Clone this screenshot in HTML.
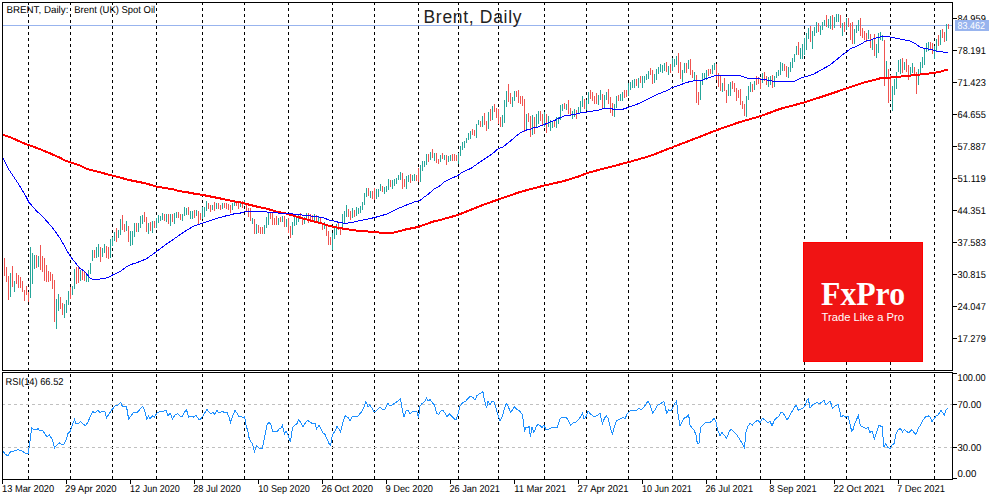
<!DOCTYPE html><html><head><meta charset="utf-8"><title>Brent, Daily</title><style>html,body{margin:0;padding:0;background:#fff;width:1000px;height:500px;overflow:hidden}svg{display:block}text{font-family:"Liberation Sans",sans-serif}.ax{font-size:10px;fill:#000;text-rendering:geometricPrecision}</style></head><body>
<svg width="1000" height="500" viewBox="0 0 1000 500">
<rect width="1000" height="500" fill="#fff"/>
<g stroke="#000" stroke-width="1" stroke-dasharray="3 3" shape-rendering="crispEdges">
<line x1="28.5" y1="2" x2="28.5" y2="479"/>
<line x1="70.5" y1="2" x2="70.5" y2="479"/>
<line x1="112.5" y1="2" x2="112.5" y2="479"/>
<line x1="156.5" y1="2" x2="156.5" y2="479"/>
<line x1="202.5" y1="2" x2="202.5" y2="479"/>
<line x1="244.5" y1="2" x2="244.5" y2="479"/>
<line x1="288.5" y1="2" x2="288.5" y2="479"/>
<line x1="332.5" y1="2" x2="332.5" y2="479"/>
<line x1="374.5" y1="2" x2="374.5" y2="479"/>
<line x1="418.5" y1="2" x2="418.5" y2="479"/>
<line x1="458.5" y1="2" x2="458.5" y2="479"/>
<line x1="498.5" y1="2" x2="498.5" y2="479"/>
<line x1="544.5" y1="2" x2="544.5" y2="479"/>
<line x1="586.5" y1="2" x2="586.5" y2="479"/>
<line x1="628.5" y1="2" x2="628.5" y2="479"/>
<line x1="672.5" y1="2" x2="672.5" y2="479"/>
<line x1="716.5" y1="2" x2="716.5" y2="479"/>
<line x1="760.5" y1="2" x2="760.5" y2="479"/>
<line x1="804.5" y1="2" x2="804.5" y2="479"/>
<line x1="846.5" y1="2" x2="846.5" y2="479"/>
<line x1="890.5" y1="2" x2="890.5" y2="479"/>
<line x1="934.5" y1="2" x2="934.5" y2="479"/>
</g>
<g stroke="#c0c0c0" stroke-width="1" stroke-dasharray="3 3" shape-rendering="crispEdges">
<line x1="2" y1="404.5" x2="952" y2="404.5"/>
<line x1="2" y1="447.5" x2="952" y2="447.5"/>
</g>
<rect x="0" y="371" width="952" height="1" fill="#fff"/>
<rect x="3" y="25" width="949" height="1" fill="#98b4ee"/>
<g shape-rendering="crispEdges">
<rect x="4" y="258" width="1" height="18" fill="#ef5350"/>
<rect x="6" y="267" width="1" height="15" fill="#ef5350"/>
<rect x="8" y="276" width="1" height="24" fill="#ef5350"/>
<rect x="10" y="273" width="1" height="24" fill="#26a69a"/>
<rect x="12" y="266" width="1" height="21" fill="#ef5350"/>
<rect x="14" y="281" width="1" height="11" fill="#26a69a"/>
<rect x="16" y="273" width="1" height="11" fill="#ef5350"/>
<rect x="18" y="275" width="1" height="13" fill="#ef5350"/>
<rect x="20" y="277" width="1" height="11" fill="#ef5350"/>
<rect x="22" y="281" width="1" height="11" fill="#ef5350"/>
<rect x="24" y="290" width="1" height="11" fill="#ef5350"/>
<rect x="26" y="286" width="1" height="9" fill="#ef5350"/>
<rect x="28" y="292" width="1" height="10" fill="#ef5350"/>
<rect x="30" y="247" width="1" height="51" fill="#26a69a"/>
<rect x="32" y="253" width="1" height="31" fill="#26a69a"/>
<rect x="34" y="255" width="1" height="14" fill="#26a69a"/>
<rect x="36" y="255" width="1" height="13" fill="#ef5350"/>
<rect x="38" y="256" width="1" height="11" fill="#26a69a"/>
<rect x="40" y="245" width="1" height="25" fill="#ef5350"/>
<rect x="42" y="256" width="1" height="16" fill="#ef5350"/>
<rect x="44" y="258" width="1" height="23" fill="#ef5350"/>
<rect x="46" y="265" width="1" height="17" fill="#ef5350"/>
<rect x="48" y="271" width="1" height="11" fill="#ef5350"/>
<rect x="50" y="272" width="1" height="9" fill="#ef5350"/>
<rect x="52" y="274" width="1" height="15" fill="#ef5350"/>
<rect x="54" y="280" width="1" height="42" fill="#ef5350"/>
<rect x="56" y="299" width="1" height="30" fill="#26a69a"/>
<rect x="58" y="294" width="1" height="17" fill="#26a69a"/>
<rect x="60" y="297" width="1" height="12" fill="#ef5350"/>
<rect x="62" y="303" width="1" height="12" fill="#ef5350"/>
<rect x="64" y="304" width="1" height="14" fill="#26a69a"/>
<rect x="66" y="300" width="1" height="13" fill="#26a69a"/>
<rect x="68" y="291" width="1" height="14" fill="#26a69a"/>
<rect x="70" y="287" width="1" height="12" fill="#ef5350"/>
<rect x="72" y="286" width="1" height="9" fill="#26a69a"/>
<rect x="74" y="269" width="1" height="20" fill="#26a69a"/>
<rect x="76" y="267" width="1" height="17" fill="#ef5350"/>
<rect x="78" y="267" width="1" height="16" fill="#ef5350"/>
<rect x="80" y="270" width="1" height="11" fill="#26a69a"/>
<rect x="82" y="270" width="1" height="10" fill="#ef5350"/>
<rect x="84" y="271" width="1" height="10" fill="#ef5350"/>
<rect x="86" y="273" width="1" height="9" fill="#26a69a"/>
<rect x="88" y="270" width="1" height="12" fill="#26a69a"/>
<rect x="90" y="263" width="1" height="11" fill="#26a69a"/>
<rect x="92" y="250" width="1" height="11" fill="#26a69a"/>
<rect x="94" y="250" width="1" height="8" fill="#ef5350"/>
<rect x="96" y="247" width="1" height="11" fill="#26a69a"/>
<rect x="98" y="244" width="1" height="13" fill="#26a69a"/>
<rect x="100" y="247" width="1" height="15" fill="#ef5350"/>
<rect x="102" y="248" width="1" height="9" fill="#26a69a"/>
<rect x="104" y="244" width="1" height="9" fill="#26a69a"/>
<rect x="106" y="246" width="1" height="12" fill="#ef5350"/>
<rect x="108" y="247" width="1" height="12" fill="#ef5350"/>
<rect x="110" y="239" width="1" height="19" fill="#26a69a"/>
<rect x="112" y="237" width="1" height="9" fill="#26a69a"/>
<rect x="114" y="232" width="1" height="9" fill="#26a69a"/>
<rect x="116" y="228" width="1" height="14" fill="#ef5350"/>
<rect x="118" y="230" width="1" height="8" fill="#26a69a"/>
<rect x="120" y="219" width="1" height="16" fill="#26a69a"/>
<rect x="122" y="215" width="1" height="15" fill="#ef5350"/>
<rect x="124" y="224" width="1" height="8" fill="#ef5350"/>
<rect x="126" y="221" width="1" height="10" fill="#26a69a"/>
<rect x="128" y="226" width="1" height="16" fill="#ef5350"/>
<rect x="130" y="231" width="1" height="15" fill="#26a69a"/>
<rect x="132" y="231" width="1" height="14" fill="#26a69a"/>
<rect x="134" y="223" width="1" height="14" fill="#26a69a"/>
<rect x="136" y="223" width="1" height="9" fill="#ef5350"/>
<rect x="138" y="223" width="1" height="9" fill="#26a69a"/>
<rect x="140" y="216" width="1" height="12" fill="#26a69a"/>
<rect x="142" y="215" width="1" height="9" fill="#26a69a"/>
<rect x="144" y="212" width="1" height="10" fill="#ef5350"/>
<rect x="146" y="217" width="1" height="15" fill="#ef5350"/>
<rect x="148" y="223" width="1" height="11" fill="#26a69a"/>
<rect x="150" y="222" width="1" height="9" fill="#ef5350"/>
<rect x="152" y="221" width="1" height="12" fill="#26a69a"/>
<rect x="154" y="221" width="1" height="7" fill="#ef5350"/>
<rect x="156" y="218" width="1" height="10" fill="#26a69a"/>
<rect x="158" y="215" width="1" height="8" fill="#26a69a"/>
<rect x="160" y="216" width="1" height="5" fill="#26a69a"/>
<rect x="162" y="213" width="1" height="7" fill="#26a69a"/>
<rect x="164" y="214" width="1" height="7" fill="#ef5350"/>
<rect x="166" y="214" width="1" height="8" fill="#26a69a"/>
<rect x="168" y="214" width="1" height="10" fill="#ef5350"/>
<rect x="170" y="214" width="1" height="12" fill="#26a69a"/>
<rect x="172" y="214" width="1" height="8" fill="#ef5350"/>
<rect x="174" y="213" width="1" height="11" fill="#26a69a"/>
<rect x="176" y="212" width="1" height="6" fill="#26a69a"/>
<rect x="178" y="212" width="1" height="6" fill="#ef5350"/>
<rect x="180" y="214" width="1" height="6" fill="#ef5350"/>
<rect x="182" y="214" width="1" height="7" fill="#26a69a"/>
<rect x="184" y="207" width="1" height="9" fill="#26a69a"/>
<rect x="186" y="208" width="1" height="7" fill="#26a69a"/>
<rect x="188" y="207" width="1" height="8" fill="#ef5350"/>
<rect x="190" y="211" width="1" height="8" fill="#26a69a"/>
<rect x="192" y="211" width="1" height="8" fill="#26a69a"/>
<rect x="194" y="210" width="1" height="8" fill="#ef5350"/>
<rect x="196" y="210" width="1" height="6" fill="#26a69a"/>
<rect x="198" y="211" width="1" height="13" fill="#ef5350"/>
<rect x="200" y="213" width="1" height="7" fill="#ef5350"/>
<rect x="202" y="207" width="1" height="12" fill="#26a69a"/>
<rect x="204" y="207" width="1" height="10" fill="#26a69a"/>
<rect x="206" y="201" width="1" height="10" fill="#26a69a"/>
<rect x="208" y="203" width="1" height="6" fill="#ef5350"/>
<rect x="210" y="205" width="1" height="7" fill="#ef5350"/>
<rect x="212" y="205" width="1" height="5" fill="#26a69a"/>
<rect x="214" y="202" width="1" height="9" fill="#ef5350"/>
<rect x="216" y="203" width="1" height="6" fill="#26a69a"/>
<rect x="218" y="203" width="1" height="6" fill="#ef5350"/>
<rect x="220" y="205" width="1" height="5" fill="#ef5350"/>
<rect x="222" y="203" width="1" height="6" fill="#26a69a"/>
<rect x="224" y="203" width="1" height="5" fill="#ef5350"/>
<rect x="226" y="203" width="1" height="6" fill="#ef5350"/>
<rect x="228" y="204" width="1" height="6" fill="#ef5350"/>
<rect x="230" y="205" width="1" height="8" fill="#ef5350"/>
<rect x="232" y="203" width="1" height="7" fill="#26a69a"/>
<rect x="234" y="201" width="1" height="5" fill="#26a69a"/>
<rect x="236" y="202" width="1" height="4" fill="#ef5350"/>
<rect x="238" y="203" width="1" height="6" fill="#ef5350"/>
<rect x="240" y="202" width="1" height="5" fill="#26a69a"/>
<rect x="242" y="201" width="1" height="7" fill="#ef5350"/>
<rect x="244" y="200" width="1" height="5" fill="#26a69a"/>
<rect x="246" y="204" width="1" height="8" fill="#ef5350"/>
<rect x="248" y="208" width="1" height="9" fill="#ef5350"/>
<rect x="250" y="208" width="1" height="13" fill="#ef5350"/>
<rect x="252" y="218" width="1" height="6" fill="#26a69a"/>
<rect x="254" y="219" width="1" height="15" fill="#ef5350"/>
<rect x="256" y="224" width="1" height="10" fill="#26a69a"/>
<rect x="258" y="225" width="1" height="8" fill="#ef5350"/>
<rect x="260" y="227" width="1" height="7" fill="#ef5350"/>
<rect x="262" y="227" width="1" height="7" fill="#ef5350"/>
<rect x="264" y="225" width="1" height="9" fill="#26a69a"/>
<rect x="266" y="217" width="1" height="11" fill="#26a69a"/>
<rect x="268" y="213" width="1" height="12" fill="#26a69a"/>
<rect x="270" y="212" width="1" height="7" fill="#ef5350"/>
<rect x="272" y="213" width="1" height="12" fill="#ef5350"/>
<rect x="274" y="218" width="1" height="7" fill="#ef5350"/>
<rect x="276" y="216" width="1" height="9" fill="#ef5350"/>
<rect x="278" y="218" width="1" height="7" fill="#26a69a"/>
<rect x="280" y="217" width="1" height="5" fill="#ef5350"/>
<rect x="282" y="216" width="1" height="6" fill="#26a69a"/>
<rect x="284" y="216" width="1" height="11" fill="#ef5350"/>
<rect x="286" y="219" width="1" height="8" fill="#26a69a"/>
<rect x="288" y="218" width="1" height="15" fill="#ef5350"/>
<rect x="290" y="226" width="1" height="12" fill="#ef5350"/>
<rect x="292" y="222" width="1" height="13" fill="#26a69a"/>
<rect x="294" y="217" width="1" height="9" fill="#26a69a"/>
<rect x="296" y="216" width="1" height="9" fill="#26a69a"/>
<rect x="298" y="214" width="1" height="8" fill="#26a69a"/>
<rect x="300" y="213" width="1" height="4" fill="#ef5350"/>
<rect x="302" y="217" width="1" height="8" fill="#ef5350"/>
<rect x="304" y="217" width="1" height="7" fill="#26a69a"/>
<rect x="306" y="213" width="1" height="7" fill="#26a69a"/>
<rect x="308" y="213" width="1" height="10" fill="#ef5350"/>
<rect x="310" y="214" width="1" height="6" fill="#ef5350"/>
<rect x="312" y="215" width="1" height="5" fill="#ef5350"/>
<rect x="314" y="214" width="1" height="7" fill="#26a69a"/>
<rect x="316" y="215" width="1" height="7" fill="#ef5350"/>
<rect x="318" y="217" width="1" height="5" fill="#26a69a"/>
<rect x="320" y="217" width="1" height="6" fill="#ef5350"/>
<rect x="322" y="223" width="1" height="7" fill="#ef5350"/>
<rect x="324" y="222" width="1" height="7" fill="#26a69a"/>
<rect x="326" y="225" width="1" height="11" fill="#ef5350"/>
<rect x="328" y="231" width="1" height="14" fill="#ef5350"/>
<rect x="330" y="237" width="1" height="8" fill="#ef5350"/>
<rect x="332" y="233" width="1" height="17" fill="#26a69a"/>
<rect x="334" y="228" width="1" height="11" fill="#26a69a"/>
<rect x="336" y="224" width="1" height="11" fill="#26a69a"/>
<rect x="338" y="223" width="1" height="7" fill="#ef5350"/>
<rect x="340" y="228" width="1" height="7" fill="#ef5350"/>
<rect x="342" y="214" width="1" height="16" fill="#26a69a"/>
<rect x="344" y="211" width="1" height="12" fill="#26a69a"/>
<rect x="346" y="205" width="1" height="12" fill="#26a69a"/>
<rect x="348" y="209" width="1" height="8" fill="#ef5350"/>
<rect x="350" y="211" width="1" height="9" fill="#ef5350"/>
<rect x="352" y="208" width="1" height="10" fill="#26a69a"/>
<rect x="354" y="210" width="1" height="7" fill="#ef5350"/>
<rect x="356" y="207" width="1" height="9" fill="#26a69a"/>
<rect x="358" y="208" width="1" height="6" fill="#26a69a"/>
<rect x="360" y="206" width="1" height="7" fill="#26a69a"/>
<rect x="362" y="202" width="1" height="8" fill="#26a69a"/>
<rect x="364" y="193" width="1" height="12" fill="#26a69a"/>
<rect x="366" y="188" width="1" height="9" fill="#26a69a"/>
<rect x="368" y="188" width="1" height="8" fill="#ef5350"/>
<rect x="370" y="191" width="1" height="7" fill="#26a69a"/>
<rect x="372" y="191" width="1" height="8" fill="#ef5350"/>
<rect x="374" y="188" width="1" height="12" fill="#ef5350"/>
<rect x="376" y="189" width="1" height="10" fill="#26a69a"/>
<rect x="378" y="189" width="1" height="8" fill="#26a69a"/>
<rect x="380" y="184" width="1" height="7" fill="#26a69a"/>
<rect x="382" y="186" width="1" height="6" fill="#ef5350"/>
<rect x="384" y="187" width="1" height="7" fill="#26a69a"/>
<rect x="386" y="186" width="1" height="6" fill="#26a69a"/>
<rect x="388" y="179" width="1" height="11" fill="#26a69a"/>
<rect x="390" y="180" width="1" height="7" fill="#ef5350"/>
<rect x="392" y="180" width="1" height="9" fill="#26a69a"/>
<rect x="394" y="179" width="1" height="7" fill="#26a69a"/>
<rect x="396" y="178" width="1" height="6" fill="#26a69a"/>
<rect x="398" y="175" width="1" height="5" fill="#26a69a"/>
<rect x="400" y="172" width="1" height="8" fill="#26a69a"/>
<rect x="402" y="173" width="1" height="16" fill="#ef5350"/>
<rect x="404" y="179" width="1" height="8" fill="#ef5350"/>
<rect x="406" y="176" width="1" height="13" fill="#26a69a"/>
<rect x="408" y="175" width="1" height="7" fill="#26a69a"/>
<rect x="410" y="174" width="1" height="9" fill="#ef5350"/>
<rect x="412" y="175" width="1" height="6" fill="#26a69a"/>
<rect x="414" y="174" width="1" height="7" fill="#26a69a"/>
<rect x="416" y="175" width="1" height="6" fill="#ef5350"/>
<rect x="418" y="168" width="1" height="14" fill="#ef5350"/>
<rect x="420" y="165" width="1" height="17" fill="#26a69a"/>
<rect x="422" y="161" width="1" height="10" fill="#26a69a"/>
<rect x="424" y="161" width="1" height="6" fill="#26a69a"/>
<rect x="426" y="154" width="1" height="11" fill="#26a69a"/>
<rect x="428" y="154" width="1" height="8" fill="#ef5350"/>
<rect x="430" y="152" width="1" height="8" fill="#26a69a"/>
<rect x="432" y="149" width="1" height="9" fill="#ef5350"/>
<rect x="434" y="153" width="1" height="8" fill="#26a69a"/>
<rect x="436" y="153" width="1" height="10" fill="#ef5350"/>
<rect x="438" y="159" width="1" height="5" fill="#ef5350"/>
<rect x="440" y="155" width="1" height="7" fill="#26a69a"/>
<rect x="442" y="153" width="1" height="6" fill="#ef5350"/>
<rect x="444" y="155" width="1" height="5" fill="#26a69a"/>
<rect x="446" y="155" width="1" height="10" fill="#ef5350"/>
<rect x="448" y="156" width="1" height="6" fill="#26a69a"/>
<rect x="450" y="155" width="1" height="6" fill="#26a69a"/>
<rect x="452" y="154" width="1" height="7" fill="#ef5350"/>
<rect x="454" y="154" width="1" height="7" fill="#ef5350"/>
<rect x="456" y="155" width="1" height="6" fill="#ef5350"/>
<rect x="458" y="153" width="1" height="11" fill="#26a69a"/>
<rect x="460" y="146" width="1" height="10" fill="#26a69a"/>
<rect x="462" y="142" width="1" height="8" fill="#26a69a"/>
<rect x="464" y="141" width="1" height="7" fill="#26a69a"/>
<rect x="466" y="138" width="1" height="5" fill="#26a69a"/>
<rect x="468" y="133" width="1" height="7" fill="#26a69a"/>
<rect x="470" y="131" width="1" height="8" fill="#26a69a"/>
<rect x="472" y="129" width="1" height="6" fill="#ef5350"/>
<rect x="474" y="130" width="1" height="6" fill="#ef5350"/>
<rect x="476" y="124" width="1" height="14" fill="#26a69a"/>
<rect x="478" y="120" width="1" height="5" fill="#26a69a"/>
<rect x="480" y="121" width="1" height="6" fill="#ef5350"/>
<rect x="482" y="116" width="1" height="11" fill="#26a69a"/>
<rect x="484" y="113" width="1" height="12" fill="#ef5350"/>
<rect x="486" y="121" width="1" height="10" fill="#ef5350"/>
<rect x="488" y="112" width="1" height="17" fill="#26a69a"/>
<rect x="490" y="109" width="1" height="12" fill="#ef5350"/>
<rect x="492" y="106" width="1" height="14" fill="#26a69a"/>
<rect x="494" y="104" width="1" height="8" fill="#ef5350"/>
<rect x="496" y="108" width="1" height="10" fill="#ef5350"/>
<rect x="498" y="109" width="1" height="15" fill="#ef5350"/>
<rect x="500" y="117" width="1" height="10" fill="#ef5350"/>
<rect x="502" y="115" width="1" height="12" fill="#26a69a"/>
<rect x="504" y="100" width="1" height="23" fill="#26a69a"/>
<rect x="506" y="91" width="1" height="16" fill="#26a69a"/>
<rect x="508" y="84" width="1" height="18" fill="#ef5350"/>
<rect x="510" y="93" width="1" height="11" fill="#ef5350"/>
<rect x="512" y="97" width="1" height="10" fill="#26a69a"/>
<rect x="514" y="91" width="1" height="10" fill="#26a69a"/>
<rect x="516" y="91" width="1" height="6" fill="#ef5350"/>
<rect x="518" y="90" width="1" height="13" fill="#ef5350"/>
<rect x="520" y="96" width="1" height="8" fill="#ef5350"/>
<rect x="522" y="96" width="1" height="10" fill="#ef5350"/>
<rect x="524" y="99" width="1" height="33" fill="#ef5350"/>
<rect x="526" y="114" width="1" height="15" fill="#26a69a"/>
<rect x="528" y="113" width="1" height="9" fill="#ef5350"/>
<rect x="530" y="116" width="1" height="21" fill="#ef5350"/>
<rect x="532" y="115" width="1" height="20" fill="#26a69a"/>
<rect x="534" y="117" width="1" height="17" fill="#ef5350"/>
<rect x="536" y="114" width="1" height="14" fill="#26a69a"/>
<rect x="538" y="111" width="1" height="13" fill="#26a69a"/>
<rect x="540" y="111" width="1" height="10" fill="#ef5350"/>
<rect x="542" y="114" width="1" height="12" fill="#ef5350"/>
<rect x="544" y="112" width="1" height="15" fill="#26a69a"/>
<rect x="546" y="114" width="1" height="19" fill="#ef5350"/>
<rect x="548" y="116" width="1" height="11" fill="#26a69a"/>
<rect x="550" y="120" width="1" height="11" fill="#26a69a"/>
<rect x="552" y="121" width="1" height="7" fill="#26a69a"/>
<rect x="554" y="121" width="1" height="6" fill="#ef5350"/>
<rect x="556" y="117" width="1" height="11" fill="#26a69a"/>
<rect x="558" y="117" width="1" height="7" fill="#26a69a"/>
<rect x="560" y="105" width="1" height="15" fill="#26a69a"/>
<rect x="562" y="104" width="1" height="7" fill="#26a69a"/>
<rect x="564" y="103" width="1" height="6" fill="#ef5350"/>
<rect x="566" y="104" width="1" height="6" fill="#26a69a"/>
<rect x="568" y="100" width="1" height="14" fill="#ef5350"/>
<rect x="570" y="108" width="1" height="8" fill="#ef5350"/>
<rect x="572" y="111" width="1" height="8" fill="#26a69a"/>
<rect x="574" y="109" width="1" height="8" fill="#26a69a"/>
<rect x="576" y="110" width="1" height="9" fill="#ef5350"/>
<rect x="578" y="107" width="1" height="7" fill="#26a69a"/>
<rect x="580" y="101" width="1" height="11" fill="#26a69a"/>
<rect x="582" y="96" width="1" height="11" fill="#26a69a"/>
<rect x="584" y="99" width="1" height="10" fill="#ef5350"/>
<rect x="586" y="100" width="1" height="10" fill="#26a69a"/>
<rect x="588" y="92" width="1" height="12" fill="#26a69a"/>
<rect x="590" y="90" width="1" height="9" fill="#ef5350"/>
<rect x="592" y="92" width="1" height="9" fill="#ef5350"/>
<rect x="594" y="96" width="1" height="8" fill="#ef5350"/>
<rect x="596" y="93" width="1" height="11" fill="#ef5350"/>
<rect x="598" y="95" width="1" height="10" fill="#26a69a"/>
<rect x="600" y="90" width="1" height="10" fill="#26a69a"/>
<rect x="602" y="94" width="1" height="14" fill="#ef5350"/>
<rect x="604" y="95" width="1" height="13" fill="#26a69a"/>
<rect x="606" y="92" width="1" height="8" fill="#26a69a"/>
<rect x="608" y="89" width="1" height="15" fill="#ef5350"/>
<rect x="610" y="97" width="1" height="16" fill="#ef5350"/>
<rect x="612" y="103" width="1" height="13" fill="#ef5350"/>
<rect x="614" y="104" width="1" height="13" fill="#26a69a"/>
<rect x="616" y="96" width="1" height="12" fill="#26a69a"/>
<rect x="618" y="95" width="1" height="6" fill="#ef5350"/>
<rect x="620" y="94" width="1" height="7" fill="#26a69a"/>
<rect x="622" y="92" width="1" height="9" fill="#26a69a"/>
<rect x="624" y="90" width="1" height="8" fill="#ef5350"/>
<rect x="626" y="90" width="1" height="7" fill="#ef5350"/>
<rect x="628" y="83" width="1" height="13" fill="#26a69a"/>
<rect x="630" y="82" width="1" height="8" fill="#26a69a"/>
<rect x="632" y="80" width="1" height="8" fill="#26a69a"/>
<rect x="634" y="79" width="1" height="9" fill="#26a69a"/>
<rect x="636" y="79" width="1" height="7" fill="#ef5350"/>
<rect x="638" y="78" width="1" height="10" fill="#26a69a"/>
<rect x="640" y="76" width="1" height="7" fill="#ef5350"/>
<rect x="642" y="76" width="1" height="12" fill="#26a69a"/>
<rect x="644" y="76" width="1" height="7" fill="#26a69a"/>
<rect x="646" y="74" width="1" height="6" fill="#26a69a"/>
<rect x="648" y="71" width="1" height="8" fill="#26a69a"/>
<rect x="650" y="68" width="1" height="7" fill="#ef5350"/>
<rect x="652" y="70" width="1" height="14" fill="#ef5350"/>
<rect x="654" y="74" width="1" height="9" fill="#26a69a"/>
<rect x="656" y="69" width="1" height="11" fill="#26a69a"/>
<rect x="658" y="67" width="1" height="7" fill="#26a69a"/>
<rect x="660" y="64" width="1" height="8" fill="#26a69a"/>
<rect x="662" y="65" width="1" height="8" fill="#26a69a"/>
<rect x="664" y="63" width="1" height="8" fill="#26a69a"/>
<rect x="666" y="62" width="1" height="10" fill="#ef5350"/>
<rect x="668" y="66" width="1" height="9" fill="#26a69a"/>
<rect x="670" y="64" width="1" height="9" fill="#ef5350"/>
<rect x="672" y="58" width="1" height="13" fill="#26a69a"/>
<rect x="674" y="59" width="1" height="8" fill="#26a69a"/>
<rect x="676" y="56" width="1" height="9" fill="#26a69a"/>
<rect x="678" y="53" width="1" height="20" fill="#ef5350"/>
<rect x="680" y="62" width="1" height="17" fill="#ef5350"/>
<rect x="682" y="70" width="1" height="12" fill="#26a69a"/>
<rect x="684" y="63" width="1" height="10" fill="#26a69a"/>
<rect x="686" y="63" width="1" height="10" fill="#ef5350"/>
<rect x="688" y="60" width="1" height="9" fill="#26a69a"/>
<rect x="690" y="59" width="1" height="16" fill="#ef5350"/>
<rect x="692" y="70" width="1" height="8" fill="#ef5350"/>
<rect x="694" y="72" width="1" height="9" fill="#26a69a"/>
<rect x="696" y="75" width="1" height="28" fill="#ef5350"/>
<rect x="698" y="92" width="1" height="13" fill="#ef5350"/>
<rect x="700" y="81" width="1" height="19" fill="#26a69a"/>
<rect x="702" y="73" width="1" height="12" fill="#26a69a"/>
<rect x="704" y="73" width="1" height="6" fill="#26a69a"/>
<rect x="706" y="70" width="1" height="10" fill="#26a69a"/>
<rect x="708" y="69" width="1" height="7" fill="#ef5350"/>
<rect x="710" y="69" width="1" height="5" fill="#ef5350"/>
<rect x="712" y="65" width="1" height="9" fill="#26a69a"/>
<rect x="714" y="63" width="1" height="7" fill="#26a69a"/>
<rect x="716" y="64" width="1" height="16" fill="#ef5350"/>
<rect x="718" y="73" width="1" height="14" fill="#ef5350"/>
<rect x="720" y="76" width="1" height="15" fill="#ef5350"/>
<rect x="722" y="83" width="1" height="9" fill="#26a69a"/>
<rect x="724" y="78" width="1" height="13" fill="#ef5350"/>
<rect x="726" y="90" width="1" height="13" fill="#ef5350"/>
<rect x="728" y="84" width="1" height="12" fill="#26a69a"/>
<rect x="730" y="82" width="1" height="14" fill="#26a69a"/>
<rect x="732" y="81" width="1" height="8" fill="#ef5350"/>
<rect x="734" y="83" width="1" height="9" fill="#ef5350"/>
<rect x="736" y="88" width="1" height="13" fill="#ef5350"/>
<rect x="738" y="90" width="1" height="8" fill="#ef5350"/>
<rect x="740" y="89" width="1" height="16" fill="#ef5350"/>
<rect x="742" y="101" width="1" height="8" fill="#ef5350"/>
<rect x="744" y="104" width="1" height="12" fill="#ef5350"/>
<rect x="746" y="96" width="1" height="21" fill="#26a69a"/>
<rect x="748" y="86" width="1" height="14" fill="#26a69a"/>
<rect x="750" y="82" width="1" height="10" fill="#26a69a"/>
<rect x="752" y="84" width="1" height="8" fill="#ef5350"/>
<rect x="754" y="81" width="1" height="9" fill="#26a69a"/>
<rect x="756" y="76" width="1" height="9" fill="#ef5350"/>
<rect x="758" y="77" width="1" height="7" fill="#ef5350"/>
<rect x="760" y="78" width="1" height="11" fill="#ef5350"/>
<rect x="762" y="73" width="1" height="10" fill="#26a69a"/>
<rect x="764" y="72" width="1" height="9" fill="#ef5350"/>
<rect x="766" y="76" width="1" height="9" fill="#ef5350"/>
<rect x="768" y="77" width="1" height="10" fill="#26a69a"/>
<rect x="770" y="76" width="1" height="9" fill="#26a69a"/>
<rect x="772" y="75" width="1" height="13" fill="#ef5350"/>
<rect x="774" y="76" width="1" height="11" fill="#26a69a"/>
<rect x="776" y="72" width="1" height="6" fill="#26a69a"/>
<rect x="778" y="70" width="1" height="6" fill="#26a69a"/>
<rect x="780" y="62" width="1" height="13" fill="#26a69a"/>
<rect x="782" y="63" width="1" height="8" fill="#26a69a"/>
<rect x="784" y="64" width="1" height="7" fill="#ef5350"/>
<rect x="786" y="66" width="1" height="11" fill="#ef5350"/>
<rect x="788" y="67" width="1" height="11" fill="#26a69a"/>
<rect x="790" y="62" width="1" height="10" fill="#26a69a"/>
<rect x="792" y="58" width="1" height="10" fill="#26a69a"/>
<rect x="794" y="54" width="1" height="8" fill="#26a69a"/>
<rect x="796" y="46" width="1" height="9" fill="#26a69a"/>
<rect x="798" y="42" width="1" height="13" fill="#ef5350"/>
<rect x="800" y="48" width="1" height="11" fill="#26a69a"/>
<rect x="802" y="44" width="1" height="15" fill="#26a69a"/>
<rect x="804" y="38" width="1" height="17" fill="#26a69a"/>
<rect x="806" y="33" width="1" height="17" fill="#26a69a"/>
<rect x="808" y="28" width="1" height="11" fill="#26a69a"/>
<rect x="810" y="26" width="1" height="16" fill="#ef5350"/>
<rect x="812" y="31" width="1" height="18" fill="#26a69a"/>
<rect x="814" y="27" width="1" height="9" fill="#26a69a"/>
<rect x="816" y="22" width="1" height="11" fill="#26a69a"/>
<rect x="818" y="23" width="1" height="9" fill="#ef5350"/>
<rect x="820" y="26" width="1" height="9" fill="#26a69a"/>
<rect x="822" y="22" width="1" height="8" fill="#26a69a"/>
<rect x="824" y="20" width="1" height="6" fill="#26a69a"/>
<rect x="826" y="15" width="1" height="12" fill="#ef5350"/>
<rect x="828" y="19" width="1" height="9" fill="#26a69a"/>
<rect x="830" y="16" width="1" height="13" fill="#26a69a"/>
<rect x="832" y="15" width="1" height="15" fill="#ef5350"/>
<rect x="834" y="17" width="1" height="11" fill="#26a69a"/>
<rect x="836" y="14" width="1" height="8" fill="#26a69a"/>
<rect x="838" y="14" width="1" height="8" fill="#26a69a"/>
<rect x="840" y="15" width="1" height="13" fill="#ef5350"/>
<rect x="842" y="23" width="1" height="13" fill="#26a69a"/>
<rect x="844" y="22" width="1" height="10" fill="#ef5350"/>
<rect x="846" y="18" width="1" height="12" fill="#26a69a"/>
<rect x="848" y="18" width="1" height="9" fill="#ef5350"/>
<rect x="850" y="23" width="1" height="17" fill="#ef5350"/>
<rect x="852" y="22" width="1" height="22" fill="#ef5350"/>
<rect x="854" y="29" width="1" height="15" fill="#26a69a"/>
<rect x="856" y="25" width="1" height="8" fill="#26a69a"/>
<rect x="858" y="20" width="1" height="11" fill="#26a69a"/>
<rect x="860" y="18" width="1" height="18" fill="#ef5350"/>
<rect x="862" y="28" width="1" height="10" fill="#ef5350"/>
<rect x="864" y="31" width="1" height="9" fill="#ef5350"/>
<rect x="866" y="33" width="1" height="9" fill="#ef5350"/>
<rect x="868" y="30" width="1" height="9" fill="#26a69a"/>
<rect x="870" y="34" width="1" height="14" fill="#ef5350"/>
<rect x="872" y="39" width="1" height="11" fill="#26a69a"/>
<rect x="874" y="34" width="1" height="22" fill="#ef5350"/>
<rect x="876" y="44" width="1" height="14" fill="#26a69a"/>
<rect x="878" y="33" width="1" height="20" fill="#26a69a"/>
<rect x="880" y="32" width="1" height="8" fill="#26a69a"/>
<rect x="882" y="35" width="1" height="6" fill="#26a69a"/>
<rect x="884" y="40" width="1" height="46" fill="#ef5350"/>
<rect x="886" y="61" width="1" height="18" fill="#26a69a"/>
<rect x="888" y="69" width="1" height="34" fill="#ef5350"/>
<rect x="890" y="75" width="1" height="25" fill="#ef5350"/>
<rect x="892" y="86" width="1" height="25" fill="#26a69a"/>
<rect x="894" y="79" width="1" height="16" fill="#26a69a"/>
<rect x="896" y="72" width="1" height="17" fill="#26a69a"/>
<rect x="898" y="60" width="1" height="12" fill="#26a69a"/>
<rect x="900" y="59" width="1" height="15" fill="#26a69a"/>
<rect x="902" y="58" width="1" height="15" fill="#ef5350"/>
<rect x="904" y="62" width="1" height="8" fill="#26a69a"/>
<rect x="906" y="59" width="1" height="13" fill="#ef5350"/>
<rect x="908" y="65" width="1" height="15" fill="#ef5350"/>
<rect x="910" y="67" width="1" height="10" fill="#26a69a"/>
<rect x="912" y="63" width="1" height="10" fill="#26a69a"/>
<rect x="914" y="67" width="1" height="9" fill="#ef5350"/>
<rect x="916" y="72" width="1" height="22" fill="#ef5350"/>
<rect x="918" y="69" width="1" height="16" fill="#26a69a"/>
<rect x="920" y="62" width="1" height="12" fill="#26a69a"/>
<rect x="922" y="57" width="1" height="11" fill="#26a69a"/>
<rect x="924" y="48" width="1" height="17" fill="#26a69a"/>
<rect x="926" y="43" width="1" height="9" fill="#26a69a"/>
<rect x="928" y="42" width="1" height="9" fill="#26a69a"/>
<rect x="930" y="42" width="1" height="8" fill="#ef5350"/>
<rect x="932" y="43" width="1" height="11" fill="#ef5350"/>
<rect x="934" y="46" width="1" height="13" fill="#26a69a"/>
<rect x="936" y="39" width="1" height="12" fill="#26a69a"/>
<rect x="938" y="35" width="1" height="11" fill="#ef5350"/>
<rect x="940" y="30" width="1" height="15" fill="#26a69a"/>
<rect x="942" y="29" width="1" height="9" fill="#ef5350"/>
<rect x="944" y="32" width="1" height="10" fill="#ef5350"/>
<rect x="946" y="24" width="1" height="17" fill="#26a69a"/>
<rect x="948" y="24" width="1" height="5" fill="#ef5350"/>
</g>
<polyline points="3.0,135.0 10.0,137.0 16.0,139.8 22.0,142.5 29.0,145.2 37.0,148.0 44.0,150.8 52.0,154.2 60.0,157.8 65.6,160.8 70.4,162.4 80.0,165.6 86.4,168.8 100.0,172.3 112.7,175.7 130.0,180.2 145.0,183.2 156.7,186.7 175.0,189.7 178.0,191.0 186.0,192.0 194.0,193.6 202.0,194.8 210.0,196.4 218.0,198.0 224.0,199.2 232.0,201.0 240.0,202.2 248.0,204.4 256.0,206.4 266.0,208.5 276.0,211.5 286.0,213.5 303.0,218.5 316.0,222.0 322.0,223.5 326.0,225.0 332.0,226.5 339.0,228.0 346.0,229.0 356.0,230.5 374.0,232.0 380.0,232.6 394.0,232.6 406.0,229.4 418.0,227.0 434.0,221.3 440.0,220.0 458.0,215.0 480.0,206.0 498.0,199.6 520.0,192.0 544.0,185.6 564.0,181.0 580.0,176.0 587.0,173.0 610.0,167.0 629.0,162.0 650.0,156.0 673.0,147.0 694.0,139.0 717.0,130.0 740.0,122.0 761.0,116.0 780.0,108.9 804.0,102.5 816.0,98.6 825.0,95.7 836.0,92.0 846.0,88.5 864.0,82.5 880.0,78.4 890.0,77.6 904.0,76.2 916.0,75.0 934.0,73.0 940.0,71.7 948.0,69.5" fill="none" stroke="#ff0000" stroke-width="2" stroke-linejoin="round" shape-rendering="crispEdges"/>
<polyline points="3.0,158.1 9.0,169.8 18.0,183.3 25.2,195.0 28.8,202.2 36.0,210.3 45.0,219.2 52.2,227.3 60.0,238.1 70.0,256.0 80.0,268.4 84.8,271.6 88.0,275.6 90.0,278.0 92.4,279.4 96.8,279.4 104.0,278.4 108.4,277.6 112.0,275.2 116.0,273.4 121.6,270.6 125.6,267.4 131.2,264.4 137.6,262.4 146.0,259.0 156.0,252.0 168.0,243.0 184.0,232.0 194.0,226.0 202.0,223.2 208.4,221.2 214.0,219.2 218.0,218.0 220.0,217.6 224.0,216.4 228.0,215.4 232.0,214.4 236.0,213.4 240.0,213.2 242.4,212.4 247.2,211.4 256.0,211.4 258.0,211.5 270.0,212.2 276.0,212.5 279.0,213.3 286.0,213.3 304.0,215.2 316.0,216.5 324.0,218.0 329.0,220.0 336.0,221.5 339.0,222.5 346.0,223.3 352.0,222.4 361.6,220.3 374.4,217.6 380.0,216.0 386.3,214.2 396.2,209.3 405.2,205.5 416.0,201.4 420.0,200.5 424.1,197.1 428.6,194.0 434.0,189.0 440.0,185.8 443.6,182.2 449.6,179.2 458.0,175.4 461.6,172.6 471.2,168.2 476.0,164.8 482.0,160.6 488.0,156.6 492.8,153.4 495.0,151.4 498.2,148.6 502.2,147.4 506.2,144.4 510.2,141.2 515.8,136.4 519.8,133.2 523.0,131.4 527.0,129.8 530.2,129.2 534.2,127.4 536.4,127.5 543.6,124.8 549.6,122.2 555.6,120.0 558.0,118.5 561.0,117.5 565.0,115.5 571.0,115.0 576.0,114.0 581.0,112.8 587.0,112.0 592.0,111.5 594.0,110.5 599.0,110.0 604.0,108.5 611.0,108.5 614.0,109.5 622.0,109.5 626.0,108.2 628.5,107.2 634.0,105.5 640.0,103.0 647.0,99.5 655.0,95.5 662.0,92.4 666.0,91.2 672.5,87.3 679.0,85.6 685.5,82.7 692.0,81.2 696.0,80.1 702.4,80.1 708.5,77.8 715.0,75.8 721.5,75.2 739.7,75.2 742.0,76.5 748.4,78.4 757.5,78.7 765.3,79.7 771.8,81.0 794.3,81.6 799.2,78.8 804.8,76.7 810.4,75.3 814.0,73.9 830.0,65.0 846.0,52.0 851.0,48.5 856.0,46.5 861.0,44.0 866.0,41.0 871.0,40.0 874.0,38.5 878.0,37.5 882.0,36.5 886.0,36.5 890.0,37.0 900.0,39.0 910.0,41.0 916.0,44.0 920.0,47.2 924.0,48.4 932.0,49.6 934.0,50.6 938.0,51.6 948.0,52.4" fill="none" stroke="#0000ff" stroke-width="1" shape-rendering="crispEdges"/>
<polyline points="3.0,451.0 5.0,454.0 8.0,456.0 11.0,451.0 14.0,451.0 18.0,449.6 22.0,451.0 26.0,453.6 28.0,454.0 29.6,444.0 31.6,428.0 34.0,429.6 36.0,430.0 38.0,428.6 40.0,431.0 42.0,430.0 44.0,432.4 47.0,437.0 49.6,435.0 52.4,440.0 54.4,448.0 57.0,445.0 59.6,443.0 62.0,445.0 64.0,444.0 66.0,440.0 68.0,433.6 70.4,431.0 72.4,425.0 74.4,419.6 76.0,424.0 78.4,423.6 80.4,421.6 83.0,424.0 85.6,425.6 88.0,422.0 90.4,416.0 93.0,411.6 95.0,413.0 98.0,410.4 100.0,412.4 103.0,411.0 105.0,412.0 106.4,418.0 109.0,414.0 112.0,409.6 115.0,406.0 118.0,405.0 120.6,402.4 122.4,406.4 125.0,406.0 126.6,407.0 128.6,419.0 131.0,416.0 134.0,412.0 136.6,413.0 139.4,410.0 142.6,406.4 144.6,410.0 146.6,419.0 148.6,416.0 150.0,419.0 152.6,415.6 154.6,417.0 157.0,413.0 160.0,411.6 163.0,411.6 166.0,410.0 168.0,416.0 170.0,413.0 172.6,419.0 175.0,415.0 177.4,413.6 180.0,416.0 182.6,416.0 184.6,412.0 186.6,410.0 188.6,417.0 191.0,416.0 193.4,417.0 196.0,415.6 198.6,419.0 200.6,419.0 203.0,416.0 205.0,412.4 207.0,409.6 209.0,412.0 211.0,414.0 213.0,412.4 215.0,414.4 217.0,410.4 219.0,413.0 221.0,412.0 223.0,411.6 225.0,413.0 227.0,412.4 229.0,417.0 230.6,422.4 232.6,416.0 235.0,410.4 237.0,413.0 238.6,416.4 240.6,416.0 243.0,417.6 244.6,416.4 246.0,425.0 248.0,432.0 249.4,439.6 250.0,440.0 252.4,444.0 254.4,451.6 256.4,446.0 259.0,448.0 262.4,448.4 264.4,438.0 267.0,425.0 269.0,422.0 271.0,425.0 272.4,431.0 275.0,431.6 277.0,432.0 279.0,429.0 281.0,428.0 282.4,425.6 284.4,434.0 286.0,431.0 288.0,435.0 290.4,442.0 292.4,428.0 295.0,425.0 297.0,423.6 298.6,419.6 301.0,423.0 303.0,427.0 305.0,423.6 307.4,420.4 310.0,422.0 313.0,424.0 315.0,423.0 316.4,429.0 319.0,425.6 321.0,429.0 323.0,433.0 325.0,434.4 327.0,439.0 329.0,443.6 330.6,445.0 332.4,435.0 335.0,431.0 337.0,426.4 339.0,429.0 340.6,432.4 342.4,424.0 345.0,415.6 348.0,417.6 350.0,421.0 352.4,416.4 355.0,417.0 358.0,416.0 361.0,412.4 363.6,408.0 366.0,401.6 368.0,407.0 369.6,405.0 372.0,408.0 374.0,411.6 375.0,412.0 377.4,409.6 380.0,407.0 382.6,409.6 385.0,409.0 388.0,403.6 390.0,406.0 393.0,404.4 396.0,402.4 398.6,400.4 400.4,398.4 402.0,408.0 404.0,417.0 406.0,411.0 408.0,410.4 410.0,414.0 412.6,411.6 415.0,411.0 417.0,412.0 418.6,417.6 420.0,406.0 422.0,403.6 424.6,401.6 426.6,397.6 428.0,401.0 430.0,399.6 432.6,403.0 434.6,405.0 436.6,413.0 438.6,414.4 440.6,411.0 443.0,410.4 445.0,413.0 447.0,416.4 449.4,414.0 452.0,416.4 454.6,419.0 456.6,419.0 458.0,413.6 460.0,406.0 463.0,402.4 466.0,401.0 468.6,397.6 471.0,396.0 473.0,397.6 475.0,400.0 477.0,395.6 479.4,393.6 481.4,393.0 483.0,391.6 484.6,401.0 486.6,408.0 488.0,401.0 490.0,405.0 492.0,401.0 494.0,401.6 496.0,408.0 498.0,415.0 500.0,421.0 502.4,416.0 504.4,408.4 506.4,403.6 508.4,407.0 510.4,412.0 512.4,410.0 514.4,407.0 517.0,409.6 519.6,411.0 522.0,414.0 523.6,422.0 524.4,432.4 526.0,427.0 528.0,428.0 529.0,426.0 530.4,437.0 532.0,427.0 534.0,432.4 536.0,427.0 538.0,424.0 540.0,425.6 542.0,427.6 544.0,425.0 546.0,430.0 549.0,429.0 552.4,427.6 555.0,428.0 557.0,427.6 560.0,419.0 562.0,417.0 566.0,417.0 568.0,420.0 570.4,425.0 573.0,423.0 575.6,422.4 578.4,419.6 580.4,417.0 582.4,413.0 584.0,419.0 586.4,416.0 588.0,411.0 590.4,414.0 593.0,416.0 595.6,416.4 598.0,415.0 600.0,413.0 602.4,424.0 604.4,418.4 606.4,415.6 608.4,419.0 610.4,428.0 612.4,434.0 614.4,427.0 616.4,421.0 618.4,420.0 620.4,419.0 623.0,417.0 625.0,419.0 627.0,414.0 630.0,411.0 633.0,410.0 636.0,411.0 638.6,408.4 641.4,409.6 644.0,407.0 646.0,404.0 648.0,401.0 650.0,405.0 652.6,413.0 655.0,410.0 657.4,405.6 660.6,403.6 664.0,401.6 666.6,413.0 668.6,410.0 671.0,411.0 673.0,407.0 675.0,403.0 676.6,401.0 678.0,414.0 680.0,426.0 682.0,422.0 684.6,417.6 686.6,417.0 688.6,414.4 690.0,425.0 692.0,428.0 694.0,430.0 696.0,435.0 697.4,444.0 699.0,443.6 700.6,427.6 703.0,425.0 706.0,422.4 709.0,423.0 712.0,421.0 714.0,418.0 716.0,422.0 717.4,429.0 720.0,436.0 722.0,432.4 724.0,435.0 726.6,438.4 729.0,432.0 731.0,429.0 734.0,432.0 737.0,435.0 740.0,440.0 742.6,444.0 744.4,448.0 746.0,432.0 748.0,426.4 750.0,423.0 752.4,425.0 755.0,422.0 757.6,420.4 760.0,422.4 762.4,418.4 765.0,420.0 768.0,423.0 770.0,421.0 772.0,426.0 774.4,420.0 777.0,417.6 779.0,416.0 781.0,412.4 783.0,413.0 785.0,416.0 787.0,420.0 789.0,417.0 791.0,413.0 793.6,409.0 796.0,405.0 798.4,410.4 801.0,409.0 803.0,408.0 805.0,405.6 807.0,400.0 808.4,399.0 810.0,408.0 812.4,405.0 815.0,403.6 817.0,402.4 819.0,404.0 821.6,402.4 824.0,400.4 826.0,405.0 828.4,402.4 830.4,401.6 832.4,408.0 835.0,406.0 838.0,404.4 839.6,410.0 841.0,417.0 843.0,415.6 845.6,417.0 848.0,416.4 850.0,424.0 851.6,431.0 853.0,429.6 855.0,423.0 858.4,415.6 860.4,425.6 863.0,427.0 865.6,428.4 868.0,427.6 870.0,432.4 872.0,431.0 874.4,439.0 876.4,432.4 879.0,425.6 882.0,426.4 884.0,447.0 885.6,443.6 887.6,447.0 890.0,449.0 892.0,445.0 894.0,443.6 896.0,434.0 898.0,430.0 900.4,428.4 902.4,432.0 904.4,429.6 907.0,431.6 909.0,433.0 911.6,429.6 914.0,432.4 916.0,434.4 918.0,429.0 920.4,425.0 923.0,420.0 925.6,417.0 928.4,416.0 930.0,417.0 932.0,421.6 934.0,419.0 936.0,416.0 938.0,415.0 941.0,410.4 942.4,412.4 944.4,415.0 946.0,409.6 947.6,408.4" fill="none" stroke="#1e90ff" stroke-width="1" shape-rendering="crispEdges"/>
<g fill="#000" shape-rendering="crispEdges">
<rect x="2" y="2" width="951" height="1"/>
<rect x="2" y="370" width="951" height="1"/>
<rect x="2" y="2" width="1" height="369"/>
<rect x="952" y="2" width="1" height="369"/>
<rect x="2" y="372" width="951" height="1"/>
<rect x="2" y="479" width="951" height="1"/>
<rect x="2" y="372" width="1" height="108"/>
<rect x="952" y="372" width="1" height="108"/>
<rect x="953" y="18" width="4" height="1"/>
<rect x="953" y="50" width="4" height="1"/>
<rect x="953" y="82" width="4" height="1"/>
<rect x="953" y="114" width="4" height="1"/>
<rect x="953" y="146" width="4" height="1"/>
<rect x="953" y="178" width="4" height="1"/>
<rect x="953" y="210" width="4" height="1"/>
<rect x="953" y="242" width="4" height="1"/>
<rect x="953" y="274" width="4" height="1"/>
<rect x="953" y="306" width="4" height="1"/>
<rect x="953" y="338" width="4" height="1"/>
<rect x="953" y="373" width="4" height="1"/>
<rect x="953" y="404" width="4" height="1"/>
<rect x="953" y="447" width="4" height="1"/>
<rect x="953" y="478" width="4" height="1"/>
<rect x="2" y="480" width="1" height="4"/>
<rect x="66" y="480" width="1" height="4"/>
<rect x="130" y="480" width="1" height="4"/>
<rect x="194" y="480" width="1" height="4"/>
<rect x="258" y="480" width="1" height="4"/>
<rect x="322" y="480" width="1" height="4"/>
<rect x="386" y="480" width="1" height="4"/>
<rect x="450" y="480" width="1" height="4"/>
<rect x="514" y="480" width="1" height="4"/>
<rect x="578" y="480" width="1" height="4"/>
<rect x="642" y="480" width="1" height="4"/>
<rect x="706" y="480" width="1" height="4"/>
<rect x="770" y="480" width="1" height="4"/>
<rect x="834" y="480" width="1" height="4"/>
<rect x="898" y="480" width="1" height="4"/>
</g>
<rect x="803" y="242" width="120" height="120" fill="#ff0000"/>
<rect x="804" y="243" width="118" height="118" fill="#f01414"/>
<text x="821" y="305" font-family="Liberation Serif,serif" font-weight="bold" font-size="33" fill="#fff" textLength="84" lengthAdjust="spacingAndGlyphs" style="font-family:'Liberation Serif',serif">FxPro</text>
<text x="821.5" y="320.5" font-size="10" fill="#fff" textLength="82.5" lengthAdjust="spacingAndGlyphs">Trade Like a Pro</text>
<text class="ax" x="957.5" y="22" textLength="28.3" lengthAdjust="spacingAndGlyphs">84.959</text>
<text class="ax" x="957.5" y="54" textLength="28.3" lengthAdjust="spacingAndGlyphs">78.191</text>
<text class="ax" x="957.5" y="86" textLength="28.3" lengthAdjust="spacingAndGlyphs">71.423</text>
<text class="ax" x="957.5" y="118" textLength="28.3" lengthAdjust="spacingAndGlyphs">64.655</text>
<text class="ax" x="957.5" y="150" textLength="28.3" lengthAdjust="spacingAndGlyphs">57.887</text>
<text class="ax" x="957.5" y="182" textLength="28.3" lengthAdjust="spacingAndGlyphs">51.119</text>
<text class="ax" x="957.5" y="214" textLength="28.3" lengthAdjust="spacingAndGlyphs">44.351</text>
<text class="ax" x="957.5" y="246" textLength="28.3" lengthAdjust="spacingAndGlyphs">37.583</text>
<text class="ax" x="957.5" y="278" textLength="28.3" lengthAdjust="spacingAndGlyphs">30.815</text>
<text class="ax" x="957.5" y="310" textLength="28.3" lengthAdjust="spacingAndGlyphs">24.047</text>
<text class="ax" x="957.5" y="342" textLength="28.3" lengthAdjust="spacingAndGlyphs">17.279</text>
<rect x="955" y="20" width="34" height="11" fill="#98b4ee"/>
<text class="ax" x="957.5" y="29" fill="#fff" style="fill:#fff" textLength="27.5" lengthAdjust="spacingAndGlyphs">83.462</text>
<text class="ax" x="957.5" y="381" textLength="28.2" lengthAdjust="spacingAndGlyphs">100.00</text>
<text class="ax" x="957.5" y="408" textLength="23.8" lengthAdjust="spacingAndGlyphs">70.00</text>
<text class="ax" x="957.5" y="451" textLength="23.8" lengthAdjust="spacingAndGlyphs">30.00</text>
<text class="ax" x="957.5" y="477" textLength="18.8" lengthAdjust="spacingAndGlyphs">0.00</text>
<text class="ax" x="2.00" y="492" textLength="52.20" lengthAdjust="spacingAndGlyphs">13 Mar 2020</text>
<text class="ax" x="65.10" y="492" textLength="51.60" lengthAdjust="spacingAndGlyphs">29 Apr 2020</text>
<text class="ax" x="130.10" y="492" textLength="49.75" lengthAdjust="spacingAndGlyphs">12 Jun 2020</text>
<text class="ax" x="193.25" y="492" textLength="47.60" lengthAdjust="spacingAndGlyphs">28 Jul 2020</text>
<text class="ax" x="258.25" y="492" textLength="51.60" lengthAdjust="spacingAndGlyphs">10 Sep 2020</text>
<text class="ax" x="321.40" y="492" textLength="51.60" lengthAdjust="spacingAndGlyphs">26 Oct 2020</text>
<text class="ax" x="385.50" y="492" textLength="47.50" lengthAdjust="spacingAndGlyphs">9 Dec 2020</text>
<text class="ax" x="449.50" y="492" textLength="50.35" lengthAdjust="spacingAndGlyphs">26 Jan 2021</text>
<text class="ax" x="514.25" y="492" textLength="51.85" lengthAdjust="spacingAndGlyphs">11 Mar 2021</text>
<text class="ax" x="577.50" y="492" textLength="51.10" lengthAdjust="spacingAndGlyphs">27 Apr 2021</text>
<text class="ax" x="642.00" y="492" textLength="49.70" lengthAdjust="spacingAndGlyphs">10 Jun 2021</text>
<text class="ax" x="705.50" y="492" textLength="47.60" lengthAdjust="spacingAndGlyphs">26 Jul 2021</text>
<text class="ax" x="769.25" y="492" textLength="47.45" lengthAdjust="spacingAndGlyphs">8 Sep 2021</text>
<text class="ax" x="833.50" y="492" textLength="51.35" lengthAdjust="spacingAndGlyphs">22 Oct 2021</text>
<text class="ax" x="897.00" y="492" textLength="47.85" lengthAdjust="spacingAndGlyphs">7 Dec 2021</text>
<text class="ax" x="6.4" y="13" textLength="62" lengthAdjust="spacingAndGlyphs">BRENT, Daily:</text><text class="ax" x="74.2" y="13" textLength="81" lengthAdjust="spacingAndGlyphs">Brent (UK) Spot Oil</text>
<text class="ax" x="5.5" y="385" textLength="58" lengthAdjust="spacingAndGlyphs">RSI(14) 66.52</text>
<text x="423.5" y="23" font-size="17.5" fill="#222" textLength="98" lengthAdjust="spacing">Brent, Daily</text>
</svg></body></html>
